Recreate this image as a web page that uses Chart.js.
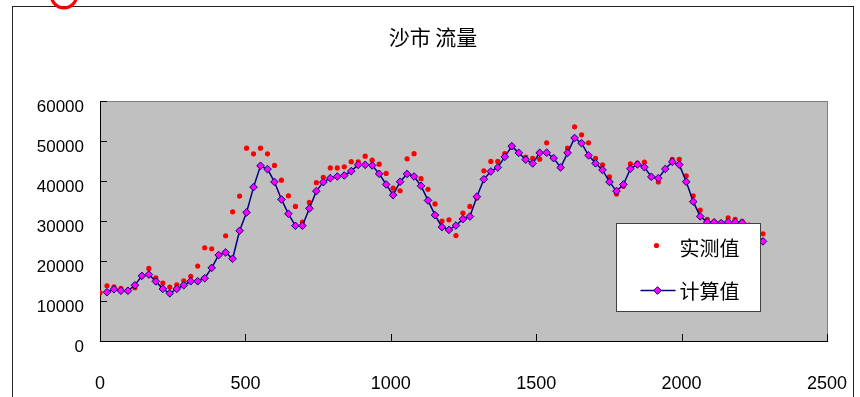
<!DOCTYPE html>
<html>
<head>
<meta charset="utf-8">
<script src="https://cdn.jsdelivr.net/npm/chart.js@4.4.1/dist/chart.umd.min.js"></script>
<style>
html, body { margin: 0; padding: 0; background: #fff; overflow: hidden; }
#wrap { position: relative; width: 860px; height: 397px; }
</style>
</head>
<body>
<div id="wrap"><canvas id="chartFlow" width="860" height="397"></canvas></div>
<script>
var titleText = "沙市 流量";
var measuredLabel = "实测值";
var computedLabel = "计算值";

var xTicks = [0, 500, 1000, 1500, 2000, 2500];
var yTicks = [0, 10000, 20000, 30000, 40000, 50000, 60000];

// distance along the reach
var measuredX = [0,24,48,72,96,120,144,168,192,216,240,264,288,312,336,360,384,408,432,456,
    480,504,528,552,576,600,624,648,672,696,720,744,768,792,816,840,864,888,912,936,
    960,984,1008,1032,1056,1080,1104,1128,1152,1176,1200,1224,1248,1272,1296,1320,1344,1368,1392,1416,
    1440,1464,1488,1512,1536,1560,1584,1608,1632,1656,1680,1704,1728,1752,1776,1800,1824,1848,1872,1896,
    1920,1944,1968,1992,2016,2040,2064,2088,2112,2136,2160,2184,2208,2232,2256,2280];
var computedX = measuredX.slice(1);

var measuredY = [12080,13830,13580,13170,12600,13330,16300,18170,15830,14500,
    13500,14080,15080,16170,18750,23330,23080,21600,26330,32330,
    36250,48250,46830,48250,46830,43920,40250,36330,33670,29750,
    34670,39620,40950,43300,43300,43580,44870,44830,46250,45250,
    44250,41920,38250,37600,45580,46870,40620,37950,34300,30000,
    30330,26380,32000,33670,35800,42580,44920,44920,46920,48500,
    47000,46000,45670,45500,49580,45750,43400,48250,53580,51580,
    49580,45670,44080,41080,36750,38750,44330,44500,44750,41000,
    39800,43000,45450,45450,41330,36330,32750,30420,29830,29580,
    30830,30420,29920,29000,28000,26830];

var computedY = [12200,12950,12580,12580,13950,16300,16620,14920,13040,11920,
    13040,13950,14950,14950,15700,18300,21500,22170,20580,27580,
    32170,38500,43830,43000,39800,35420,31830,28830,28830,33170,
    37500,39750,40750,41170,41420,42500,44080,44080,43920,41830,
    39170,36500,39850,41800,41170,38830,35170,31500,28500,27800,
    28900,30500,31150,36120,40460,42420,43420,46080,48750,47080,
    45370,44420,47080,47120,45750,43420,47080,50800,49500,46460,
    44460,42800,39800,37500,39170,43100,44170,43500,41080,40750,
    43050,44830,44120,39830,34870,31170,29750,29700,29500,29750,
    29750,29600,28500,27000,24920];

var measuredPts = measuredX.map(function(x, i) { return {x: x, y: measuredY[i]}; });
var computedPts = computedX.map(function(x, i) { return {x: x, y: computedY[i]}; });

var cjk = "'Noto Sans CJK SC', 'Noto Sans', sans-serif";
var latin = "'Liberation Sans', Arial, sans-serif";

// frame, grey plot area
var backPlugin = {
    id: 'back',
    beforeDraw: function(chart) {
        var ctx = chart.ctx, a = chart.chartArea;
        ctx.save();
        ctx.fillStyle = '#fff';
        ctx.fillRect(0, 0, chart.width, chart.height);
        ctx.fillStyle = '#c0c0c0';
        ctx.fillRect(a.left, a.top, a.right - a.left, a.bottom - a.top);
        ctx.strokeStyle = '#808080';
        ctx.lineWidth = 1;
        ctx.strokeRect(Math.round(a.left) + 0.5, Math.round(a.top) + 0.5,
            Math.round(a.right - a.left), Math.round(a.bottom - a.top));
        ctx.strokeStyle = '#222';
        ctx.strokeRect(12.5, 6.5, 841, 420);
        // red marker ring cut off at the top
        ctx.strokeStyle = '#ff0000';
        ctx.lineWidth = 3.2;
        ctx.beginPath();
        ctx.ellipse(64, -6, 13, 14, 0, 0, Math.PI * 2);
        ctx.stroke();
        ctx.restore();
    }
};

// inside tick marks + legend box
var overPlugin = {
    id: 'over',
    afterDraw: function(chart) {
        var ctx = chart.ctx, a = chart.chartArea;
        var sx = chart.scales.x, sy = chart.scales.y;
        ctx.save();
        ctx.strokeStyle = '#000';
        ctx.lineWidth = 1;
        ctx.beginPath();
        yTicks.forEach(function(v) {
            var p = Math.round(sy.getPixelForValue(v)) + 0.5;
            ctx.moveTo(a.left, p);
            ctx.lineTo(a.left + 7, p);
        });
        xTicks.forEach(function(v) {
            var p = Math.round(sx.getPixelForValue(v)) + 0.5;
            ctx.moveTo(p, a.bottom);
            ctx.lineTo(p, a.bottom - 7);
        });
        ctx.stroke();

        var bx = Math.round(a.left + 516) + 0.5, by = Math.round(a.top + 122) + 0.5;
        var bw = 144, bh = 88;
        ctx.fillStyle = '#fff';
        ctx.fillRect(bx, by, bw, bh);
        ctx.strokeStyle = '#404040';
        ctx.strokeRect(bx, by, bw, bh);

        var d0 = chart.data.datasets[0], d1 = chart.data.datasets[1];
        ctx.fillStyle = d0.pointBackgroundColor;
        ctx.beginPath();
        ctx.arc(bx + 40, by + 22, d0.pointRadius, 0, Math.PI * 2);
        ctx.fill();

        ctx.strokeStyle = d1.borderColor;
        ctx.lineWidth = d1.borderWidth;
        ctx.beginPath();
        ctx.moveTo(bx + 24, by + 67);
        ctx.lineTo(bx + 59, by + 67);
        ctx.stroke();
        var cx = bx + 41, cy = by + 67, r = d1.pointRadius;
        ctx.beginPath();
        ctx.moveTo(cx - r, cy); ctx.lineTo(cx, cy - r); ctx.lineTo(cx + r, cy); ctx.lineTo(cx, cy + r);
        ctx.closePath();
        ctx.fillStyle = d1.pointBackgroundColor;
        ctx.fill();
        ctx.lineWidth = 1;
        ctx.strokeStyle = d1.pointBorderColor;
        ctx.stroke();

        ctx.fillStyle = '#000';
        ctx.font = '20px ' + cjk;
        ctx.textBaseline = 'middle';
        ctx.textAlign = 'left';
        ctx.fillText(d0.label, bx + 63, by + 25);
        ctx.fillText(d1.label, bx + 63, by + 68);
        ctx.restore();
    }
};

var chartFlow = new Chart(document.getElementById("chartFlow"), {
    type: 'line',
    data: {
        datasets: [{
            label: measuredLabel,
            data: measuredPts,
            showLine: false,
            pointStyle: 'circle',
            pointRadius: 2.6,
            pointBorderWidth: 0,
            pointBackgroundColor: '#ff0000',
            borderColor: '#ff0000',
            backgroundColor: '#ff0000',
            order: 2
        }, {
            label: computedLabel,
            data: computedPts,
            showLine: true,
            borderColor: '#000080',
            borderWidth: 1.5,
            tension: 0,
            fill: false,
            pointStyle: 'rectRot',
            pointRadius: 3.8,
            pointBorderWidth: 1,
            pointBackgroundColor: '#ff00ff',
            pointBorderColor: '#000080',
            order: 1
        }]
    },
    options: {
        responsive: false,
        animation: false,
        events: [],
        layout: { padding: { left: 6, right: 0, top: 0, bottom: 0 } },
        plugins: {
            legend: { display: false },
            tooltip: { enabled: false },
            title: {
                display: true,
                text: titleText,
                color: '#000',
                font: { family: cjk, size: 21, weight: 'normal' },
                padding: { top: 24, bottom: 52 }
            }
        },
        scales: {
            x: {
                type: 'linear',
                min: 0,
                max: 2500,
                grid: { display: false, drawTicks: false },
                border: { display: true, color: '#000', width: 1 },
                afterBuildTicks: function(s) { s.ticks = xTicks.map(function(v) { return {value: v}; }); },
                ticks: {
                    color: '#000',
                    font: { family: latin, size: 18 },
                    padding: 32,
                    maxRotation: 0,
                    callback: function(v) { return String(v); }
                },
                afterFit: function(s) { s.height = 56; s.paddingLeft = 0; s.paddingRight = 0; }
            },
            y: {
                min: 0,
                max: 60000,
                grid: { display: false, drawTicks: false },
                border: { display: true, color: '#000', width: 1 },
                afterBuildTicks: function(s) { s.ticks = yTicks.map(function(v) { return {value: v}; }); },
                ticks: {
                    color: '#000',
                    font: { family: latin, size: 17 },
                    padding: 16,
                    labelOffset: 6,
                    callback: function(v) { return String(v); }
                },
                afterFit: function(s) { s.width = 94; }
            },
            yRight: {
                position: 'right',
                min: 0,
                max: 60000,
                grid: { display: false, drawTicks: false },
                border: { display: false },
                ticks: { display: false },
                afterFit: function(s) { s.width = 33; }
            }
        }
    },
    plugins: [backPlugin, overPlugin]
});
</script>
</body>
</html>
